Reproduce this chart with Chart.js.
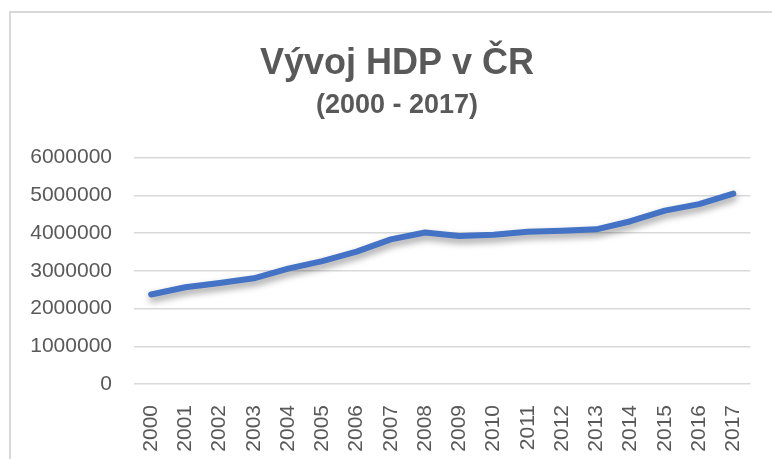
<!DOCTYPE html>
<html>
<head>
<meta charset="utf-8">
<script src="https://cdn.jsdelivr.net/npm/chart.js@4"></script>
<style>
  html, body { margin: 0; padding: 0; background: #fff; }
  #wrap { position: relative; width: 772px; height: 459px; overflow: hidden; }
  #frame { position: absolute; left: 9px; top: 11px; width: 900px; height: 600px;
           border-left: 2px solid #d9d9d9; border-top: 2px solid #d9d9d9; }
  canvas { position: absolute; left: 0; top: 0; }
</style>
</head>
<body>
<div id="wrap">
  <div id="frame"></div>
  <canvas id="hdpChart" width="772" height="459"></canvas>
</div>
<script>
const years = ["2000", "2001", "2002", "2003", "2004", "2005", "2006", "2007", "2008",
  "2009", "2010", "2011", "2012", "2013", "2014", "2015", "2016", "2017"];
const hdp = [2372630, 2562679, 2674634, 2801163, 3057660, 3257972, 3507131, 3831819, 4015346,
  3921827, 3953651, 4033755, 4059912, 4098128, 4313789, 4595783, 4767990, 5047267];
const yMin = 0;
const yMax = 6000000;
const yStep = 1000000;

// soft shadow under the line, like the Excel original
const lineShadow = {
  id: "lineShadow",
  beforeDatasetDraw(chart) {
    const ctx = chart.ctx;
    ctx.save();
    ctx.shadowColor = "rgba(0,0,0,0.4)";
    ctx.shadowBlur = 7;
    ctx.shadowOffsetX = 1;
    ctx.shadowOffsetY = 4;
  },
  afterDatasetDraw(chart) {
    chart.ctx.restore();
  }
};

const ctx = document.getElementById("hdpChart").getContext("2d");
new Chart(ctx, {
  type: "line",
  data: {
    labels: years,
    datasets: [{
      label: "HDP",
      data: hdp,
      borderColor: "#4472C4",
      borderWidth: 6,
      borderCapStyle: "round",
      borderJoinStyle: "round",
      pointRadius: 0,
      tension: 0,
      fill: false
    }]
  },
  options: {
    responsive: false,
    animation: false,
    // negative right padding moves the title centre to the right; spacer axis keeps the plot edge
    layout: { padding: { left: 0, right: -22, top: 0, bottom: 0 } },
    plugins: {
      legend: { display: false },
      tooltip: { enabled: false },
      title: {
        display: true,
        text: "Vývoj HDP v ČR",
        color: "#595959",
        font: { family: "Liberation Sans", size: 36, weight: "bold", lineHeight: 1.2 },
        padding: { top: 42, bottom: 4 }
      },
      subtitle: {
        display: true,
        text: "(2000 - 2017)",
        color: "#595959",
        font: { family: "Liberation Sans", size: 27, weight: "bold", lineHeight: 1.2 },
        padding: { top: 0, bottom: 36 }
      }
    },
    scales: {
      x: {
        offset: true,
        grid: { display: false },
        border: { display: false },
        ticks: {
          color: "#595959",
          font: { family: "Liberation Sans", size: 21 },
          minRotation: 90,
          maxRotation: 90,
          padding: 13,
          autoSkip: false
        },
        afterFit(scale) { scale.height = 75; }
      },
      y: {
        min: yMin,
        max: yMax,
        grid: { color: "#d9d9d9", lineWidth: 1.5, drawTicks: false },
        border: { display: false },
        ticks: {
          stepSize: yStep,
          color: "#595959",
          font: { family: "Liberation Sans", size: 21 },
          padding: 22,
          callback: v => String(v)
        },
        afterFit(scale) { scale.width = 134; }
      },
      spacer: {
        type: "linear",
        position: "right",
        min: yMin,
        max: yMax,
        grid: { display: false, drawTicks: false },
        border: { display: false },
        ticks: { display: false },
        afterFit(scale) { scale.width = 40; }
      }
    }
  },
  plugins: [lineShadow]
});
</script>
</body>
</html>
